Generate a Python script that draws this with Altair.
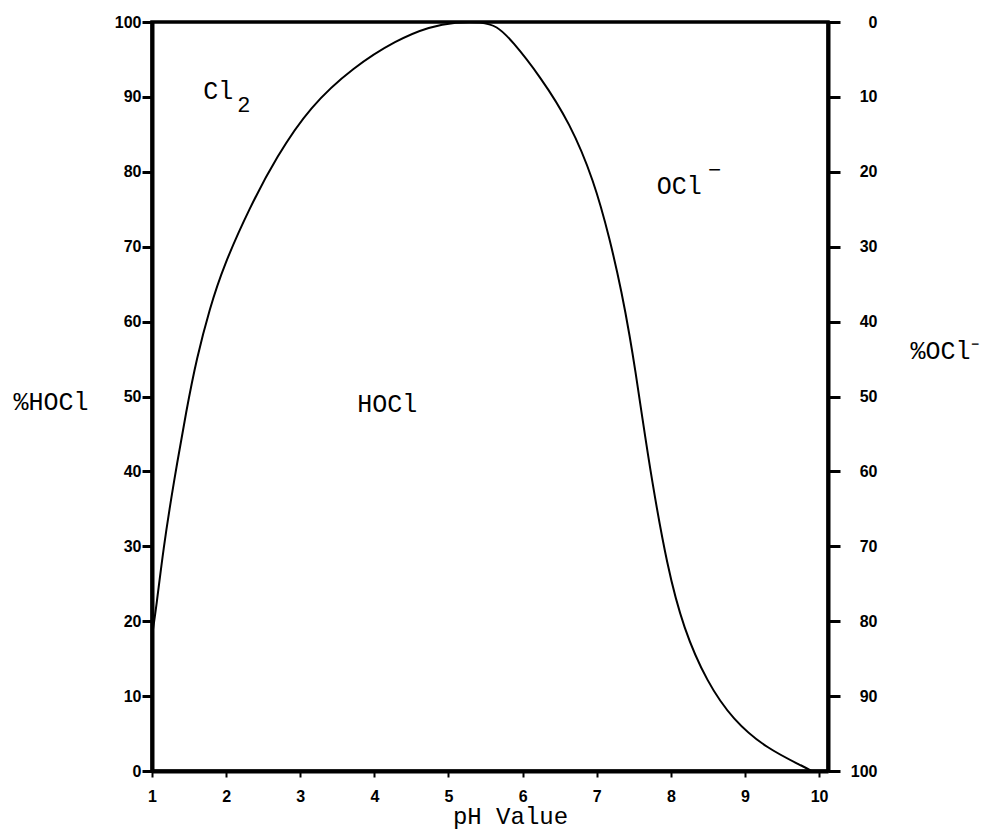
import altair as alt
import pandas as pd

# curve: %HOCl vs pH
ph = [1.0, 1.06, 1.15, 1.29, 1.47, 1.60, 1.78, 1.96, 2.32, 2.68, 3.13, 3.72, 4.30, 4.75,
      5.10, 5.45, 5.65, 5.85, 6.24, 6.64, 6.96, 7.18, 7.34, 7.45, 7.52, 7.61, 7.74,
      7.95, 8.17, 8.49, 8.84, 9.29, 9.83, 9.90]
hocl = [18, 22, 29.5, 38.4, 48.5, 55, 61.8, 67.3, 75.3, 82, 88.7, 94, 97.6, 99.4,
        100, 100, 99.5, 97.6, 92.7, 86.5, 78.9, 70.9, 63.8, 57.8, 53.5, 47.5, 39.0,
        27.3, 19.0, 11.8, 6.8, 3.0, 0.4, 0]

x_ticks = [1, 2, 3, 4, 5, 6, 7, 8, 9, 10]
y_ticks = [0, 10, 20, 30, 40, 50, 60, 70, 80, 90, 100]

# region labels
lab_text = ["Cl", "HOCl", "OCl"]
lab_ph = [1.69, 3.77, 7.81]
lab_v = [90.8, 49.0, 78.1]
# subscript / superscript pieces
sub_text = ["2", "\u2212"]
sub_ph = [2.15, 8.50]
sub_v = [88.9, 80.2]

curve = pd.DataFrame({"ph": ph, "v": hocl})
labels = pd.DataFrame({"ph": lab_ph, "v": lab_v, "t": lab_text})
subs = pd.DataFrame({"ph": sub_ph, "v": sub_v, "t": sub_text})
right = pd.DataFrame({"ocl": y_ticks})

MONO = "Liberation Mono"
SANS = "Liberation Sans"

xscale = alt.Scale(domain=[1, 10.12], nice=False, zero=False)
yscale = alt.Scale(domain=[0, 100], nice=False)

line = alt.Chart(curve).mark_line(color="black", strokeWidth=2, interpolate="basis").encode(
    x=alt.X("ph:Q", scale=xscale,
            axis=alt.Axis(values=x_ticks, format="d", title="pH Value", grid=False,
                          tickSize=6, tickWidth=2, tickColor="black",
                          domainWidth=4, domainColor="black",
                          labelFont=SANS, labelFontWeight="bold", labelFontSize=16,
                          labelColor="black", labelPadding=11, labelFlush=False,
                          titleFont=MONO, titleFontWeight="normal", titleFontSize=24,
                          titleColor="black", titleX=358, titleY=45,
                          titleAlign="center", titleBaseline="middle")),
    y=alt.Y("v:Q", scale=yscale,
            axis=alt.Axis(values=y_ticks, title="%HOCl", grid=False, orient="left",
                          tickSize=10, tickWidth=3, tickColor="black",
                          domainWidth=4, domainColor="black",
                          labelFont=SANS, labelFontWeight="bold", labelFontSize=16,
                          labelColor="black", labelPadding=1, labelFlush=False,
                          labelOverlap=False,
                          titleFont=MONO, titleFontWeight="normal", titleFontSize=25,
                          titleColor="black", titleAngle=0, titleX=-139, titleY=379,
                          titleAlign="left", titleBaseline="middle")),
)

text_main = alt.Chart(labels).mark_text(font=MONO, fontSize=25, align="left",
                                         baseline="middle", color="black").encode(
    x=alt.X("ph:Q", scale=xscale), y=alt.Y("v:Q", scale=yscale), text="t:N")

text_sub = alt.Chart(subs).mark_text(font=MONO, fontSize=22, align="left",
                                      baseline="middle", color="black").encode(
    x=alt.X("ph:Q", scale=xscale), y=alt.Y("v:Q", scale=yscale), text="t:N")

left_part = alt.layer(line, text_main, text_sub)

right_axis = alt.Chart(right).mark_point(opacity=0).encode(
    x=alt.value(0),
    y=alt.Y("ocl:Q", scale=alt.Scale(domain=[0, 100], reverse=True, nice=False),
            axis=alt.Axis(values=y_ticks, title="%OCl\u207b", grid=False, orient="right",
                          tickSize=12, tickWidth=3, tickColor="black",
                          domainWidth=4, domainColor="black",
                          labelFont=SANS, labelFontWeight="bold", labelFontSize=16,
                          labelColor="black", labelAlign="right", labelPadding=37,
                          labelFlush=False, labelOverlap=False,
                          titleFont=MONO, titleFontWeight="normal", titleFontSize=25,
                          titleColor="black", titleAngle=0, titleX=82, titleY=328,
                          titleAlign="left", titleBaseline="middle")),
)

chart = alt.layer(left_part, right_axis).resolve_scale(y="independent").properties(
    width=676, height=749,
    autosize=alt.AutoSizeParams(type="none"),
    padding={"left": 144, "top": 14, "right": 152, "bottom": 59},
).configure(background="white").configure_view(stroke="black", strokeWidth=3.5)

chart.save("out.html", embed_options={"renderer": "svg", "actions": False})
